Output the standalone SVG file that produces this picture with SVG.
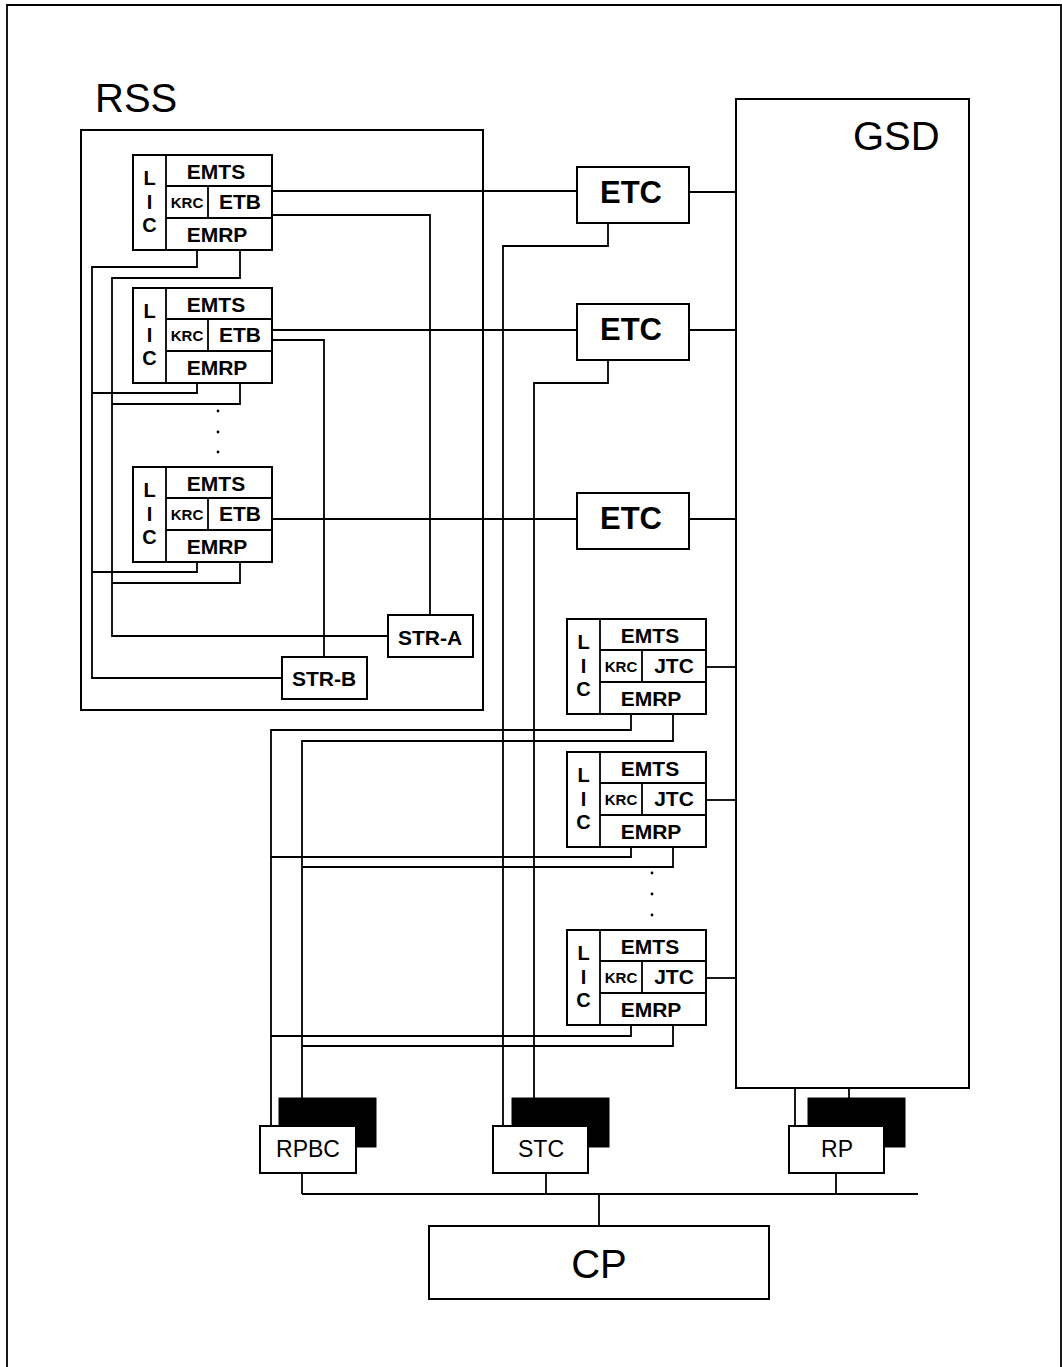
<svg xmlns="http://www.w3.org/2000/svg" xmlns:xlink="http://www.w3.org/1999/xlink" width="1062" height="1367" viewBox="0 0 1062 1367">
<style>
  .box{fill:#fff;stroke:#000;stroke-width:2}
  .dark{fill:#000;stroke:#000;stroke-width:1}
  .ln{fill:none;stroke:#000;stroke-width:1.8}
  .cn{fill:none;stroke:#000;stroke-width:1.8;stroke-linejoin:miter}
  .b{font-family:"Liberation Sans",Arial,sans-serif;font-weight:bold;text-anchor:middle;fill:#000}
  .r{font-family:"Liberation Sans",Arial,sans-serif;text-anchor:middle;fill:#000}
  .m{font-size:21px}
  .lic{font-size:20px}
  .krc{font-size:15px}
  .etc{font-size:31px}
  .big{font-size:40px}
  .sm{font-size:23px}
  .dot{fill:#000}
</style>
<defs>
  <g id="modFrame">
    <rect class="box" x="0" y="0" width="139" height="95"/>
    <path class="ln" d="M33,0V95M33,31H139M33,63H139M75,31V63"/>
    <text class="b lic" x="16.5" y="30">L</text>
    <text class="b lic" x="16.5" y="54">I</text>
    <text class="b lic" x="16.5" y="77">C</text>
    <text class="b m" x="83" y="24">EMTS</text>
    <text class="b krc" x="54" y="53">KRC</text>
    <text class="b m" x="84" y="87">EMRP</text>
  </g>
</defs>
<rect x="0" y="0" width="1062" height="1367" fill="#fff"/>
<path class="ln" d="M7,1367V5H1061V1367"/>

<g id="RSS">
  <rect x="81" y="130" width="402" height="580" fill="none" stroke="#000" stroke-width="2"/>
  <text class="r big" x="95" y="112" style="text-anchor:start">RSS</text>
</g>

<g id="connectors">
  <path class="cn" d="M272,191H577"/>
  <path class="cn" d="M272,330H577"/>
  <path class="cn" d="M272,519H577"/>
  <path class="cn" d="M272,215H430V615"/>
  <path class="cn" d="M272,340H324V657"/>
  <path class="cn" d="M197,250V267H92V678H282"/>
  <path class="cn" d="M240,250V278H112V636H388"/>
  <path class="cn" d="M197,384V393H92"/>
  <path class="cn" d="M240,384V404H112"/>
  <path class="cn" d="M197,562V572H92"/>
  <path class="cn" d="M240,562V583H112"/>
  <path class="cn" d="M689,192H736"/>
  <path class="cn" d="M689,330H736"/>
  <path class="cn" d="M689,519H736"/>
  <path class="cn" d="M608,223V246H503V1126"/>
  <path class="cn" d="M608,360V383H534V1098"/>
  <path class="cn" d="M705,667H736"/>
  <path class="cn" d="M705,800H736"/>
  <path class="cn" d="M705,978H736"/>
  <path class="cn" d="M631,713V730H271V1126"/>
  <path class="cn" d="M673,713V741H302V1098"/>
  <path class="cn" d="M631,847V857H271"/>
  <path class="cn" d="M673,847V867H302"/>
  <path class="cn" d="M631,1025V1036H271"/>
  <path class="cn" d="M673,1025V1046H302"/>
  <path class="cn" d="M795,1088V1126"/>
  <path class="cn" d="M849,1088V1098"/>
  <path class="cn" d="M302,1173V1194"/>
  <path class="cn" d="M546,1173V1194"/>
  <path class="cn" d="M836,1173V1194"/>
  <path class="cn" d="M302,1194H918"/>
  <path class="cn" d="M599,1194V1226"/>
</g>

<g id="mod1" transform="translate(133,155)">
  <use xlink:href="#modFrame" href="#modFrame"/>
  <text class="b m" x="107" y="54">ETB</text>
</g>
<g id="mod2" transform="translate(133,288)">
  <use xlink:href="#modFrame" href="#modFrame"/>
  <text class="b m" x="107" y="54">ETB</text>
</g>
<g id="dots1">
  <circle class="dot" cx="218" cy="411" r="1.4"/>
  <circle class="dot" cx="218" cy="432" r="1.4"/>
  <circle class="dot" cx="218" cy="452" r="1.4"/>
</g>
<g id="mod3" transform="translate(133,467)">
  <use xlink:href="#modFrame" href="#modFrame"/>
  <text class="b m" x="107" y="54">ETB</text>
</g>

<g id="STR-A">
  <rect class="box" x="388" y="615" width="85" height="42"/>
  <text class="b m" x="430" y="645">STR-A</text>
</g>
<g id="STR-B">
  <rect class="box" x="282" y="657" width="85" height="42"/>
  <text class="b m" x="324" y="686">STR-B</text>
</g>

<g id="ETC1">
  <rect class="box" x="577" y="167" width="112" height="56"/>
  <text class="b etc" x="631" y="203">ETC</text>
</g>
<g id="ETC2">
  <rect class="box" x="577" y="304" width="112" height="56"/>
  <text class="b etc" x="631" y="340">ETC</text>
</g>
<g id="ETC3">
  <rect class="box" x="577" y="493" width="112" height="56"/>
  <text class="b etc" x="631" y="529">ETC</text>
</g>

<g id="GSD">
  <rect class="box" x="736" y="99" width="233" height="989"/>
  <text class="r big" x="853" y="150" style="text-anchor:start">GSD</text>
</g>

<g id="mod4" transform="translate(567,619)">
  <use xlink:href="#modFrame" href="#modFrame"/>
  <text class="b m" x="107" y="54">JTC</text>
</g>
<g id="mod5" transform="translate(567,752)">
  <use xlink:href="#modFrame" href="#modFrame"/>
  <text class="b m" x="107" y="54">JTC</text>
</g>
<g id="dots2">
  <circle class="dot" cx="652" cy="873" r="1.4"/>
  <circle class="dot" cx="652" cy="894" r="1.4"/>
  <circle class="dot" cx="652" cy="915" r="1.4"/>
</g>
<g id="mod6" transform="translate(567,930)">
  <use xlink:href="#modFrame" href="#modFrame"/>
  <text class="b m" x="107" y="54">JTC</text>
</g>

<g id="RPBC">
  <rect class="dark" x="279" y="1098" width="97" height="49"/>
  <rect class="box" x="260" y="1126" width="96" height="47"/>
  <text class="r sm" x="308" y="1157">RPBC</text>
</g>
<g id="STC">
  <rect class="dark" x="512" y="1098" width="97" height="49"/>
  <rect class="box" x="493" y="1126" width="95" height="47"/>
  <text class="r sm" x="541" y="1157">STC</text>
</g>
<g id="RP">
  <rect class="dark" x="808" y="1098" width="97" height="49"/>
  <rect class="box" x="789" y="1126" width="95" height="47"/>
  <text class="r sm" x="837" y="1157">RP</text>
</g>

<g id="CP">
  <rect class="box" x="429" y="1226" width="340" height="73"/>
  <text class="r big" x="599" y="1278">CP</text>
</g>
</svg>
